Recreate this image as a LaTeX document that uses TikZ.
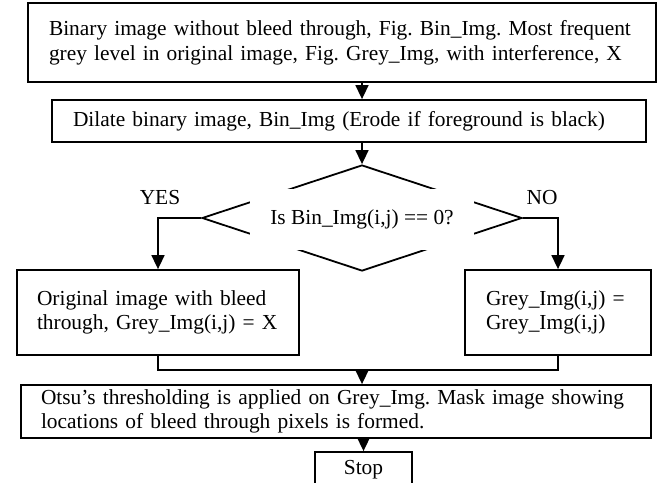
\documentclass[tikz,border=0pt]{standalone}
\usepackage{fontspec}
\setmainfont{Liberation Serif}
\usepackage{tikz}
\usetikzlibrary{shapes.geometric, arrows.meta, positioning, calc}
\frenchspacing
\newcommand{\flowfont}{\fontsize{10.7pt}{12.3pt}\selectfont\hyphenpenalty=10000}
\tikzset{
  proc/.style={
    rectangle, draw=black, line width=0.9pt,
    align=left, inner xsep=10.5pt, inner ysep=0pt,
    fill=white, font=\flowfont},
  decide/.style={
    diamond, draw=black, line width=0.9pt,
    inner sep=0pt, minimum width=160pt, minimum height=53pt},
  cond/.style={
    rectangle, fill=white, inner sep=0pt,
    minimum width=112pt, minimum height=30.5pt, font=\flowfont},
  lbl/.style={font=\flowfont, inner sep=0pt},
  arr/.style={-{Triangle[length=7pt,width=6.5pt]}, line width=0.8pt},
  link/.style={line width=0.8pt},
}

\begin{document}
\begin{tikzpicture}[x=0.5pt, y=-0.5pt]

  \path[use as bounding box, clip] (0,0) rectangle (667,482);

  \node[proc, line width=1.3pt, text width=293pt, minimum height=39.5pt] (src) at (342,42.5)
    {Binary image without bleed through, Fig. Bin\_Img. Most frequent\\grey level in original image, Fig. Grey\_Img, with interference, X};

  \node[proc, text width=276pt, minimum height=21pt] (dil) at (349,121)
    {Dilate binary image, Bin\_Img (Erode if foreground is black)};

  \node[decide] (dia) at (362,218) {};
  \node[cond] (test) at (362,219.5) {Is Bin\_Img(i,j) == 0?};

  \node[lbl] (yeslbl) at (160,198) {YES};
  \node[lbl] (nolbl) at (542,198) {NO};

  \node[proc, inner xsep=10pt, text width=121pt, minimum height=42.5pt] (yes) at (158,312.5)
    {Original image with bleed\\through, Grey\_Img(i,j) = X};

  \node[proc, text width=72pt, minimum height=42.5pt] (no) at (558,312.5)
    {Grey\_Img(i,j) =\\Grey\_Img(i,j)};

  \coordinate (mrg) at (362,370);

  \node[proc, inner xsep=10pt, text width=295pt, minimum height=26.5pt] (otsu) at (336,411.5)
    {Otsu’s thresholding is applied on Grey\_Img. Mask image showing\\locations of bleed through pixels is formed.};

  \node[proc, align=center, inner xsep=0pt, minimum width=48.5pt, minimum height=18pt] (stop) at (363.5,470)
    {Stop};

  \draw[arr] (src.south -| dia.north) -- (dil.north -| dia.north);
  \draw[arr] (dil.south -| dia.north) -- (dia.north);
  \draw[arr] (dia.west) -| (yes.north);
  \draw[arr] (dia.east) -| (no.north);
  \draw[link] (yes.south) |- (mrg);
  \draw[link] (no.south)  |- (mrg);
  \draw[arr] (mrg) -- (otsu.north -| mrg);
  \draw[arr] (otsu.south -| stop.north) -- (stop.north);

\end{tikzpicture}
\end{document}
